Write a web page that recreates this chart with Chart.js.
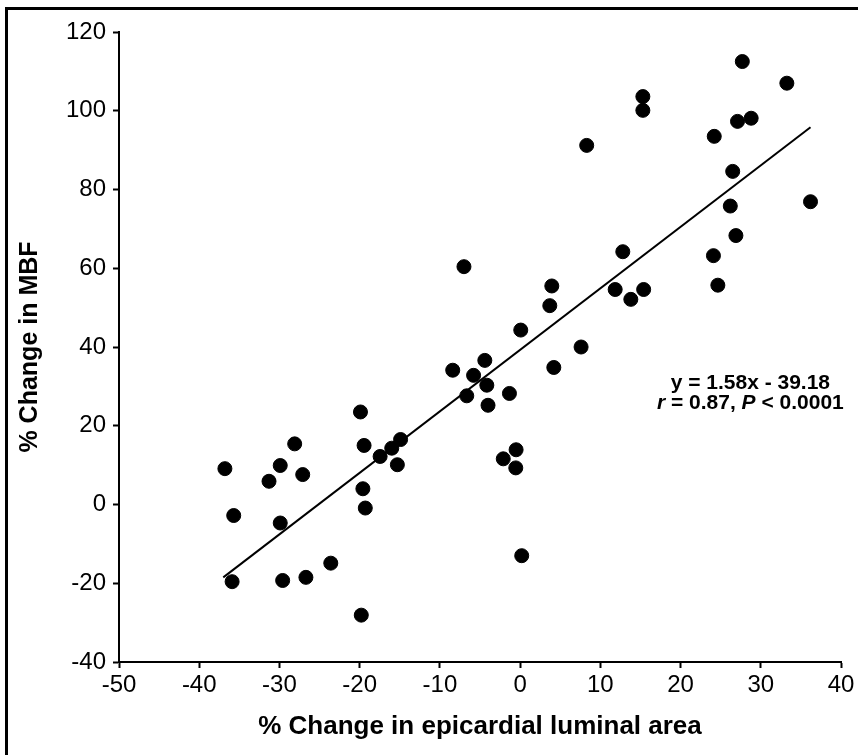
<!DOCTYPE html>
<html>
<head>
<meta charset="utf-8">
<title>% Change in MBF vs % Change in epicardial luminal area</title>
<script src="https://cdn.jsdelivr.net/npm/chart.js@4.4.1/dist/chart.umd.min.js"></script>
<style>
  html, body { margin: 0; padding: 0; background: #fff; }
  #wrap { position: relative; width: 858px; height: 755px; }
</style>
</head>
<body>
<div id="wrap"><canvas id="chart"></canvas></div>
<script>
'use strict';
//___________DATA________________________________________
var changeLuminalArea = [
  -36.8, -35.7, -35.9, -31.3, -29.9, -28.1, -27.1, -29.9, -29.6, -26.7,
  -23.6, -19.9, -19.45, -19.6, -19.3, -19.8, -17.45, -16.0, -14.9, -15.3,
  -8.4, -7.0, -6.65, -5.8, -4.4, -4.15, -4.0, -2.1, -1.33, -0.5,
  -0.54, 0.2, 0.08, 3.7, 3.95, 4.2, 7.6, 8.3, 11.85, 12.8,
  13.8, 15.4, 15.3, 15.3, 24.2, 24.1, 24.65, 26.2, 26.5, 26.9,
  27.1, 28.8, 27.7, 33.25, 36.2
];
var changeMBF = [
  9.1, -2.8, -19.6, 5.9, 9.9, 15.4, 7.6, -4.7, -19.3, -18.5,
  -14.9, 23.5, 15.0, 4.0, -0.9, -28.1, 12.2, 14.3, 16.5, 10.1,
  34.1, 60.4, 27.6, 32.8, 36.6, 30.3, 25.2, 11.6, 28.2, 13.9,
  9.3, -13.0, 44.3, 50.5, 55.5, 34.8, 40.0, 91.2, 54.6, 64.2,
  52.1, 54.6, 103.6, 100.1, 93.5, 63.2, 55.7, 75.8, 84.6, 68.3,
  97.3, 98.1, 112.5, 107.0, 76.9
];
// ends of the fitted line as drawn
var fitLineX = [-37.0, 36.2];
var fitLineY = [-18.5, 95.8];

var xTicks = [-50, -40, -30, -20, -10, 0, 10, 20, 30, 40];
var yTicks = [-40, -20, 0, 20, 40, 60, 80, 100, 120];

var fitEquation = 'y = 1.58x - 39.18';
var fitStats = [['r', true], [' = 0.87, ', false], ['P', true], [' < 0.0001', false]];

//___________BUILD POINTS_________________________________
function toPoints(xs, ys){
  var pts = [];
  for(var i = 0; i < xs.length; i++){
    pts.push({x: xs[i], y: ys[i]});
  }
  return pts;
}

var FONT = '"Liberation Sans", Arial, Helvetica, sans-serif';
Chart.defaults.font.family = FONT;
Chart.defaults.color = '#000';

//___________FRAME + EQUATION TEXT_________________________
var framePlugin = {
  id: 'frame',
  beforeDraw: function(chart){
    var ctx = chart.ctx;
    ctx.save();
    ctx.fillStyle = '#000';
    ctx.fillRect(5, 7, chart.width - 5, 3);
    ctx.fillRect(5, 7, 3, chart.height - 7);
    ctx.restore();
  }
};

var equationPlugin = {
  id: 'equation',
  afterDatasetsDraw: function(chart){
    var ctx = chart.ctx;
    var cx = chart.scales.x.getPixelForValue(28.7);
    var y1 = chart.scales.y.getPixelForValue(30.8);
    var y2 = chart.scales.y.getPixelForValue(25.6);
    ctx.save();
    ctx.fillStyle = '#000';
    ctx.textBaseline = 'middle';
    ctx.textAlign = 'center';
    ctx.font = 'bold 21px ' + FONT;
    ctx.fillText(fitEquation, cx, y1);

    // second line, with italic r and P
    ctx.textAlign = 'left';
    var total = 0;
    for(var i = 0; i < fitStats.length; i++){
      ctx.font = (fitStats[i][1] ? 'italic ' : '') + 'bold 21px ' + FONT;
      total += ctx.measureText(fitStats[i][0]).width;
    }
    var x = cx - total / 2;
    for(var j = 0; j < fitStats.length; j++){
      ctx.font = (fitStats[j][1] ? 'italic ' : '') + 'bold 21px ' + FONT;
      ctx.fillText(fitStats[j][0], x, y2);
      x += ctx.measureText(fitStats[j][0]).width;
    }
    ctx.restore();
  }
};

//___________CHART_________________________________
var ctx = document.getElementById('chart').getContext('2d');
new Chart(ctx, {
  type: 'scatter',
  data: {
    datasets: [
      {
        label: 'MBF vs luminal area',
        data: toPoints(changeLuminalArea, changeMBF),
        backgroundColor: '#000',
        borderColor: '#000',
        pointRadius: 7,
        pointBorderWidth: 1,
        pointHoverRadius: 7
      },
      {
        type: 'line',
        label: 'fit',
        data: toPoints(fitLineX, fitLineY),
        borderColor: '#000',
        borderWidth: 2,
        pointRadius: 0,
        fill: false
      }]
  },
  options: {
    responsive: true,
    maintainAspectRatio: false,
    animation: false,
    layout: {padding: {left: 10, right: 17, top: 32, bottom: 10}},
    plugins: {legend: {display: false}, tooltip: {enabled: false}},
    scales: {
      x: {
        type: 'linear',
        min: xTicks[0],
        max: xTicks[xTicks.length - 1],
        afterBuildTicks: function(scale){
          scale.ticks = xTicks.map(function(v){ return {value: v}; });
        },
        afterFit: function(scale){ scale.height = 83; },
        grid: {drawOnChartArea: false, drawTicks: true, tickLength: 6, tickWidth: 2, tickColor: '#000'},
        border: {display: true, color: '#000', width: 2},
        ticks: {font: {size: 24}, color: '#000', padding: 3, maxRotation: 0, autoSkip: false},
        title: {
          display: true,
          text: '% Change in epicardial luminal area',
          font: {size: 26, weight: 'bold'},
          color: '#000',
          padding: {top: 0, bottom: 3}
        }
      },
      y: {
        type: 'linear',
        min: yTicks[0],
        max: yTicks[yTicks.length - 1],
        afterBuildTicks: function(scale){
          scale.ticks = yTicks.map(function(v){ return {value: v}; });
        },
        afterFit: function(scale){ scale.width = 109; },
        grid: {drawOnChartArea: false, drawTicks: true, tickLength: 6, tickWidth: 2, tickColor: '#000'},
        border: {display: true, color: '#000', width: 2},
        ticks: {font: {size: 24}, color: '#000', padding: 7, autoSkip: false},
        title: {
          display: true,
          text: '% Change in MBF',
          font: {size: 25, weight: 'bold'},
          color: '#000',
          padding: {top: 5, bottom: 0}
        }
      }
    }
  },
  plugins: [framePlugin, equationPlugin]
});
</script>
</body>
</html>
